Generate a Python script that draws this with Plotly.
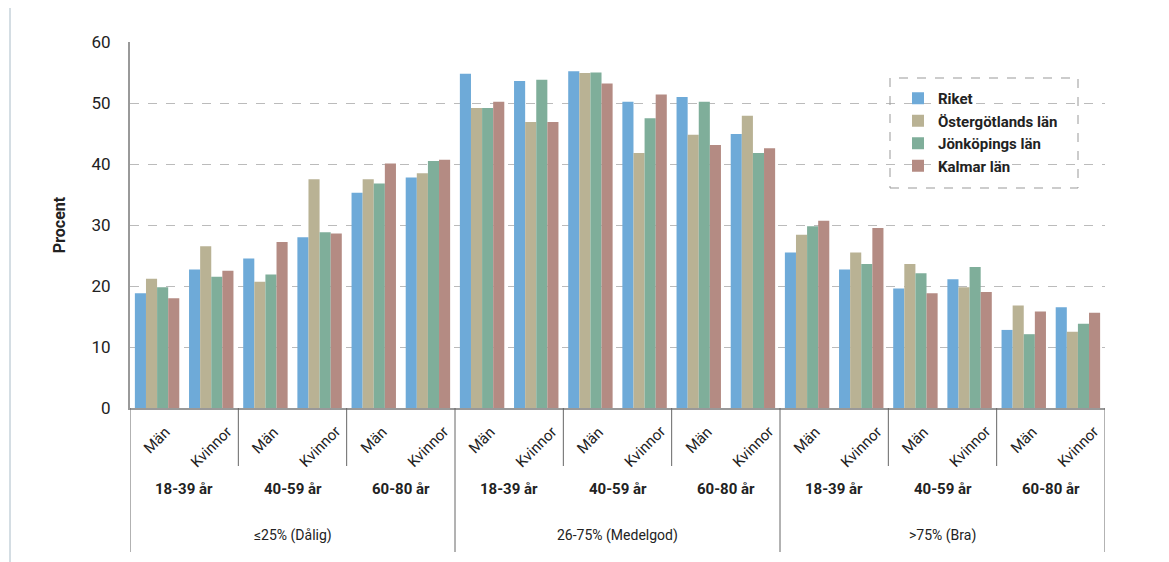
import plotly.graph_objects as go

series = ["Riket", "Östergötlands län", "Jönköpings län", "Kalmar län"]
colors = ["#6eaad8", "#b9b294", "#7fae9a", "#b48b83"]
sex = ["Män", "Kvinnor"] * 9
ages = ["18-39 år", "40-59 år", "60-80 år"] * 3
groups = ["≤25% (Dålig)", "26-75% (Medelgod)", ">75% (Bra)"]

riket = [18.8, 22.7, 24.5, 28.0, 35.3, 37.8, 54.8, 53.6, 55.2, 50.2, 51.0, 44.9,
         25.5, 22.7, 19.6, 21.1, 12.8, 16.5]
ostergotland = [21.2, 26.5, 20.7, 37.5, 37.5, 38.5, 49.2, 46.9, 54.9, 41.8, 44.8, 47.9,
                28.4, 25.5, 23.6, 19.8, 16.8, 12.5]
jonkoping = [19.8, 21.5, 21.9, 28.8, 36.8, 40.5, 49.2, 53.8, 55.0, 47.5, 50.2, 41.8,
             29.8, 23.6, 22.1, 23.1, 12.1, 13.8]
kalmar = [18.0, 22.5, 27.2, 28.6, 40.1, 40.7, 50.2, 46.9, 53.2, 51.4, 43.1, 42.6,
          30.7, 29.5, 18.8, 19.0, 15.8, 15.6]
values = [riket, ostergotland, jonkoping, kalmar]

# the page puts the figure 8px in from the top left corner
OFF = 8
W, H = 1169 - OFF, 562 - OFF
L, R, T, B = 130, 1105, 42, 408
def px(x): return (x - L) / (R - L)
def py(y): return (B - y) / (B - T)

xs = list(range(len(sex)))
fig = go.Figure()
for name, col, vals in zip(series, colors, values):
    fig.add_trace(go.Bar(x=xs, y=vals, name=name, marker=dict(color=col, line=dict(width=0))))

fig.update_layout(
    width=W, height=H, barmode="group", bargap=0.18, bargroupgap=0,
    margin=dict(l=L - OFF, r=W - (R - OFF), t=T - OFF, b=H - (B - OFF), autoexpand=False),
    paper_bgcolor="white", plot_bgcolor="white",
    font=dict(family="Roboto, sans-serif", color="#222"),
    legend=dict(x=px(898), y=py(82), xanchor="left", yanchor="top",
                font=dict(size=15, family="Roboto, sans-serif", weight="bold"),
                bgcolor="rgba(0,0,0,0)", tracegroupgap=2),
    xaxis=dict(range=[-0.5, 17.5], showticklabels=False, showgrid=False, zeroline=False,
               showline=True, linecolor="#999", linewidth=2),
    yaxis=dict(range=[0, 60], dtick=10, showgrid=True, gridcolor="#bbb", griddash="dash",
               zeroline=False, showline=True, linecolor="#999", linewidth=2,
               tickfont=dict(size=17), ticks="outside", ticklen=14, tickcolor="white",
               title=dict(text="<b>Procent</b>", font=dict(size=16), standoff=22)),
)

shapes = []
# legend box
shapes.append(dict(type="rect", xref="paper", yref="paper", x0=px(890), x1=px(1078),
                   y0=py(188), y1=py(78), line=dict(color="#999", width=1, dash="dash")))
# outer frame
shapes.append(dict(type="line", xref="paper", yref="paper", x0=px(10), x1=px(10),
                   y0=py(1), y1=py(562), line=dict(color="#a9bcc8", width=1)))
# separators
for k in range(0, 19, 2):
    xpos = k - 0.5
    long = k % 6 == 0
    shapes.append(dict(type="line", xref="x", yref="paper", x0=xpos, x1=xpos,
                       y0=py(408), y1=py(552 if long else 466),
                       line=dict(color="#666", width=1)))
fig.update_layout(shapes=shapes)

for i, s in enumerate(sex):
    fig.add_annotation(x=i, y=py(420), xref="x", yref="paper", text=s, textangle=-45,
                       showarrow=False, xanchor="center", yanchor="top",
                       font=dict(size=15))
for j, a in enumerate(ages):
    fig.add_annotation(x=2 * j + 0.5, y=py(500), xref="x", yref="paper", text="<b>" + a + "</b>",
                       showarrow=False, font=dict(size=15))
for j, g in enumerate(groups):
    fig.add_annotation(x=6 * j + 2.5, y=py(546), xref="x", yref="paper", text=g,
                       showarrow=False, font=dict(size=14))

fig.write_html("out.html")
